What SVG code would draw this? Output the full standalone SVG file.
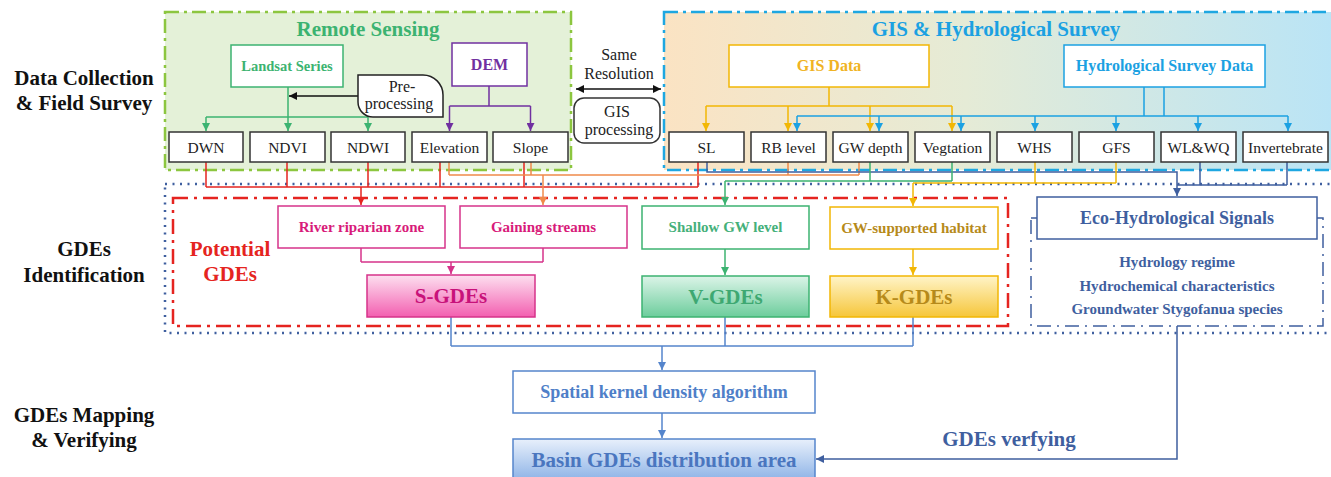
<svg xmlns="http://www.w3.org/2000/svg" width="1331" height="477" viewBox="0 0 1331 477">
<style>
text{font-family:"Liberation Serif","Times New Roman",serif;text-anchor:middle}
.b{font-weight:bold}
.lab{font-size:21px;font-weight:bold;fill:#111}
.row rect{fill:#fff;stroke:#333;stroke-width:1.5}
.row text{font-size:15.5px;fill:#222}
.c{fill:none;stroke-width:1.5}
.k{stroke:#111}.g{stroke:#3cb371}.p{stroke:#7030a0}.y{stroke:#f2b705}.h{stroke:#1ba1e2}
.r{stroke:#e52420}.o{stroke:#f08a4b}.d{stroke:#3f5f9f}.m{stroke:#d6338a}.s{stroke:#5585cc}
</style>
<defs>
<marker id="mk" viewBox="0 0 10 10" refX="10" refY="5" markerWidth="8" markerHeight="8" orient="auto-start-reverse" markerUnits="userSpaceOnUse"><path d="M0,0L10,5L0,10z" fill="#111"/></marker>
<marker id="mg" viewBox="0 0 10 10" refX="10" refY="5" markerWidth="8" markerHeight="8" orient="auto" markerUnits="userSpaceOnUse"><path d="M0,0L10,5L0,10z" fill="#3cb371"/></marker>
<marker id="mp" viewBox="0 0 10 10" refX="10" refY="5" markerWidth="8" markerHeight="8" orient="auto" markerUnits="userSpaceOnUse"><path d="M0,0L10,5L0,10z" fill="#7030a0"/></marker>
<marker id="my" viewBox="0 0 10 10" refX="10" refY="5" markerWidth="8" markerHeight="8" orient="auto" markerUnits="userSpaceOnUse"><path d="M0,0L10,5L0,10z" fill="#f2b705"/></marker>
<marker id="mh" viewBox="0 0 10 10" refX="10" refY="5" markerWidth="8" markerHeight="8" orient="auto" markerUnits="userSpaceOnUse"><path d="M0,0L10,5L0,10z" fill="#1ba1e2"/></marker>
<marker id="mr" viewBox="0 0 10 10" refX="10" refY="5" markerWidth="8" markerHeight="8" orient="auto" markerUnits="userSpaceOnUse"><path d="M0,0L10,5L0,10z" fill="#e52420"/></marker>
<marker id="mo" viewBox="0 0 10 10" refX="10" refY="5" markerWidth="8" markerHeight="8" orient="auto" markerUnits="userSpaceOnUse"><path d="M0,0L10,5L0,10z" fill="#f08a4b"/></marker>
<marker id="md" viewBox="0 0 10 10" refX="10" refY="5" markerWidth="8" markerHeight="8" orient="auto" markerUnits="userSpaceOnUse"><path d="M0,0L10,5L0,10z" fill="#3f5f9f"/></marker>
<marker id="mm" viewBox="0 0 10 10" refX="10" refY="5" markerWidth="8" markerHeight="8" orient="auto" markerUnits="userSpaceOnUse"><path d="M0,0L10,5L0,10z" fill="#d6338a"/></marker>
<marker id="ms" viewBox="0 0 10 10" refX="10" refY="5" markerWidth="8" markerHeight="8" orient="auto" markerUnits="userSpaceOnUse"><path d="M0,0L10,5L0,10z" fill="#5585cc"/></marker>
<linearGradient id="gisbg" x1="0" y1="0" x2="1" y2="0"><stop offset="0" stop-color="#fbe3c3"/><stop offset="0.45" stop-color="#e5ebd6"/><stop offset="1" stop-color="#b9e4f6"/></linearGradient>
<linearGradient id="gs" x1="0" y1="0" x2="0" y2="1"><stop offset="0" stop-color="#fde0f0"/><stop offset="1" stop-color="#f35fb0"/></linearGradient>
<linearGradient id="gv" x1="0" y1="0" x2="0" y2="1"><stop offset="0" stop-color="#dcf4e8"/><stop offset="1" stop-color="#6ccd9c"/></linearGradient>
<linearGradient id="gk" x1="0" y1="0" x2="0" y2="1"><stop offset="0" stop-color="#fff4c8"/><stop offset="1" stop-color="#f6c63a"/></linearGradient>
<linearGradient id="gb" x1="0" y1="0" x2="0" y2="1"><stop offset="0" stop-color="#e8f0fb"/><stop offset="1" stop-color="#8cb2e6"/></linearGradient>
</defs>
<rect width="1331" height="477" fill="#fff"/>

<g id="stage-labels">
<text class="lab" x="84" y="85">Data Collection</text>
<text class="lab" x="84" y="110">&amp; Field Survey</text>
<text class="lab" x="84" y="256">GDEs</text>
<text class="lab" x="84" y="282">Identification</text>
<text class="lab" x="84" y="422">GDEs Mapping</text>
<text class="lab" x="84" y="447">&amp; Verifying</text>
</g>

<g id="remote-sensing-group">
<rect x="165" y="12" width="406" height="158" fill="#e4f1d8" stroke="#8cc63f" stroke-width="2.5" stroke-dasharray="14 5 3 5"/>
<text class="b" x="368" y="36" font-size="21" fill="#3cb371">Remote Sensing</text>
</g>
<g id="gis-group">
<rect x="664" y="12" width="672" height="158" fill="url(#gisbg)" stroke="#1ea7e1" stroke-width="2.5" stroke-dasharray="14 5 3 5"/>
<text class="b" x="996" y="36" font-size="21" fill="#1ba1e2">GIS &amp; Hydrological Survey</text>
</g>
<g id="identification-area">
<rect x="165" y="184" width="1170" height="149" fill="none" stroke="#3f5f9f" stroke-width="2.5" stroke-dasharray="2 5.5"/>
</g>
<g id="potential-gdes-group">
<rect x="173" y="198" width="835" height="128" fill="none" stroke="#e52420" stroke-width="2.5" stroke-dasharray="15 6 3 6"/>
<text class="b" x="230" y="256" font-size="21" fill="#e52420">Potential</text>
<text class="b" x="230" y="281" font-size="21" fill="#e52420">GDEs</text>
</g>
<g id="eco-signals-group">
<rect x="1031" y="218" width="292" height="108" fill="none" stroke="#3f5f9f" stroke-width="1.5" stroke-dasharray="14 6 2 6"/>
<text class="b" x="1177" y="267" font-size="15" fill="#3f5f9f">Hydrology regime</text>
<text class="b" x="1177" y="291" font-size="15" fill="#3f5f9f">Hydrochemical characteristics</text>
<text class="b" x="1177" y="314" font-size="15" fill="#3f5f9f">Groundwater Stygofanua species</text>
</g>

<g id="connectors">
<path class="c g" d="M288,87V131" marker-end="url(#mg)"/>
<path class="c g" d="M206,117H368"/>
<path class="c g" d="M206,117V131" marker-end="url(#mg)"/>
<path class="c g" d="M368,117V131" marker-end="url(#mg)"/>
<path class="c k" d="M358,96H289" marker-end="url(#mk)"/>
<path class="c p" d="M489,86V106M449.5,106H530.5"/>
<path class="c p" d="M449.5,106V131" marker-end="url(#mp)"/>
<path class="c p" d="M530.5,106V131" marker-end="url(#mp)"/>
<path class="c k" d="M576,89H661" marker-start="url(#mk)" marker-end="url(#mk)"/>
<path class="c y" d="M829,87V106M706,106H952"/>
<path class="c y" d="M706,106V131" marker-end="url(#my)"/>
<path class="c y" d="M788,106V131" marker-end="url(#my)"/>
<path class="c y" d="M870,106V131" marker-end="url(#my)"/>
<path class="c y" d="M952,106V131" marker-end="url(#my)"/>
<path class="c h" d="M1144,87V116M1164,87V116M797,116H1288"/>
<path class="c h" d="M797,116V131" marker-end="url(#mh)"/>
<path class="c h" d="M879,116V131" marker-end="url(#mh)"/>
<path class="c h" d="M961,116V131" marker-end="url(#mh)"/>
<path class="c h" d="M1035,116V131" marker-end="url(#mh)"/>
<path class="c h" d="M1116,116V131" marker-end="url(#mh)"/>
<path class="c h" d="M1198,116V131" marker-end="url(#mh)"/>
<path class="c h" d="M1288,116V131" marker-end="url(#mh)"/>
<path class="c r" d="M206,162V187M287,162V187M368,162V187M440,162V187M524,162V187M698,162V187M206,187H698"/>
<path class="c r" d="M361,187V205" marker-end="url(#mr)"/>
<path class="c o" d="M449,162V175M531,162V175M788,162V175M859,162V175M449,175H859"/>
<path class="c o" d="M543,175V205" marker-end="url(#mo)"/>
<path class="c d" d="M707,162V172H1177V196" marker-end="url(#md)"/>
<path class="c d" d="M1200,162V185M1287,162V185M1177,185H1287"/>
<path class="c g" d="M870,162V181M952,162V181M725,181H952"/>
<path class="c g" d="M725,181V205" marker-end="url(#mg)"/>
<path class="c y" d="M1035,162V183M1116,162V183M913,183H1116"/>
<path class="c y" d="M913,183V206" marker-end="url(#my)"/>
<path class="c m" d="M361,248V262M543,248V262M361,262H543"/>
<path class="c m" d="M451,262V274" marker-end="url(#mm)"/>
<path class="c g" d="M725,249V275" marker-end="url(#mg)"/>
<path class="c y" d="M913,249V275" marker-end="url(#my)"/>
<path class="c s" d="M451,317V346M725,317V346M913,317V346M451,346H913"/>
<path class="c s" d="M662,346V370" marker-end="url(#ms)"/>
<path class="c s" d="M662,413V438" marker-end="url(#ms)"/>
<path class="c d" d="M1177,326V459H816" marker-end="url(#md)"/>
</g>

<g id="landsat">
<rect x="231" y="45" width="112" height="42" fill="#fff" stroke="#3cb371" stroke-width="1.5"/>
<text class="b" x="287" y="71" font-size="14.5" fill="#3cb371">Landsat Series</text>
</g>
<g id="dem">
<rect x="452" y="43" width="75" height="43" fill="#fff" stroke="#7030a0" stroke-width="1.5"/>
<text class="b" x="489.5" y="70" font-size="16" fill="#7030a0">DEM</text>
</g>
<g id="pre-processing">
<path d="M358,75H423A20,20 0 0 1 443,95V117H373A15,15 0 0 1 358,102Z" fill="#fff" stroke="#222" stroke-width="1.5"/>
<text x="402" y="92" font-size="16" fill="#222">Pre-</text>
<text x="399" y="109" font-size="16" fill="#222">processing</text>
</g>
<g id="same-resolution">
<text x="619" y="60" font-size="16" fill="#222">Same</text>
<text x="619" y="79" font-size="16" fill="#222">Resolution</text>
</g>
<g id="gis-processing">
<rect x="574" y="98" width="86" height="45" rx="10" fill="#fff" stroke="#333" stroke-width="1.5"/>
<text x="617" y="117" font-size="16" fill="#222">GIS</text>
<text x="619" y="135" font-size="16" fill="#222">processing</text>
</g>
<g id="gis-data">
<rect x="729" y="45" width="200" height="42" fill="#fff" stroke="#f2b705" stroke-width="1.5"/>
<text class="b" x="829" y="71" font-size="16" fill="#f0b323">GIS Data</text>
</g>
<g id="hydro-survey-data">
<rect x="1064" y="45" width="201" height="42" fill="#fff" stroke="#1ba1e2" stroke-width="1.5"/>
<text class="b" x="1164.5" y="71" font-size="16" fill="#1ba1e2">Hydrological Survey Data</text>
</g>

<g id="dwn" class="row"><rect x="169" y="132" width="74" height="30"/><text x="206" y="152.5">DWN</text></g>
<g id="ndvi" class="row"><rect x="250" y="132" width="75" height="30"/><text x="287.5" y="152.5">NDVI</text></g>
<g id="ndwi" class="row"><rect x="331" y="132" width="74" height="30"/><text x="368" y="152.5">NDWI</text></g>
<g id="elevation" class="row"><rect x="412" y="132" width="75" height="30"/><text x="449.5" y="152.5">Elevation</text></g>
<g id="slope" class="row"><rect x="493" y="132" width="75" height="30"/><text x="530.5" y="152.5">Slope</text></g>
<g id="sl" class="row"><rect x="669" y="132" width="75" height="30"/><text x="706.5" y="152.5">SL</text></g>
<g id="rb-level" class="row"><rect x="751" y="132" width="75" height="30"/><text x="788.5" y="152.5">RB level</text></g>
<g id="gw-depth" class="row"><rect x="833" y="132" width="75" height="30"/><text x="870.5" y="152.5">GW depth</text></g>
<g id="vegtation" class="row"><rect x="915" y="132" width="75" height="30"/><text x="952.5" y="152.5">Vegtation</text></g>
<g id="whs" class="row"><rect x="997" y="132" width="75" height="30"/><text x="1034.5" y="152.5">WHS</text></g>
<g id="gfs" class="row"><rect x="1079" y="132" width="75" height="30"/><text x="1116.5" y="152.5">GFS</text></g>
<g id="wl-wq" class="row"><rect x="1161" y="132" width="75" height="30"/><text x="1198.5" y="152.5">WL&amp;WQ</text></g>
<g id="invertebrate" class="row"><rect x="1243" y="132" width="85" height="30"/><text x="1285.5" y="152.5">Invertebrate</text></g>

<g id="river-riparian">
<rect x="278" y="206" width="167" height="42" fill="#fff" stroke="#d6338a" stroke-width="1.5"/>
<text class="b" x="361.5" y="232" font-size="15" fill="#d81b7a">River riparian zone</text>
</g>
<g id="gaining-streams">
<rect x="460" y="206" width="167" height="42" fill="#fff" stroke="#d6338a" stroke-width="1.5"/>
<text class="b" x="543.5" y="232" font-size="15" fill="#d81b7a">Gaining streams</text>
</g>
<g id="shallow-gw">
<rect x="642" y="206" width="167" height="43" fill="#fff" stroke="#3cb371" stroke-width="1.5"/>
<text class="b" x="725.5" y="232" font-size="15" fill="#45b07a">Shallow GW level</text>
</g>
<g id="gw-habitat">
<rect x="830" y="207" width="168" height="42" fill="#fff" stroke="#f2b705" stroke-width="1.5"/>
<text class="b" x="914" y="233" font-size="15" fill="#b68a1a">GW-supported habitat</text>
</g>
<g id="s-gdes">
<rect x="367" y="275" width="168" height="42" fill="url(#gs)" stroke="#d6338a" stroke-width="1.5"/>
<text class="b" x="451" y="303" font-size="21" fill="#c8127a">S-GDEs</text>
</g>
<g id="v-gdes">
<rect x="642" y="276" width="167" height="41" fill="url(#gv)" stroke="#3cb371" stroke-width="1.5"/>
<text class="b" x="725.5" y="304" font-size="21" fill="#3ea872">V-GDEs</text>
</g>
<g id="k-gdes">
<rect x="830" y="276" width="168" height="41" fill="url(#gk)" stroke="#f2b705" stroke-width="1.5"/>
<text class="b" x="914" y="304" font-size="21" fill="#b68a1a">K-GDEs</text>
</g>
<g id="eco-signals">
<rect x="1037" y="197" width="280" height="42" fill="#fff" stroke="#3f5f9f" stroke-width="1.5"/>
<text class="b" x="1177" y="224" font-size="18" fill="#3f5f9f">Eco-Hydrological Signals</text>
</g>
<g id="spatial-kde">
<rect x="513" y="371" width="302" height="42" fill="#fff" stroke="#5585cc" stroke-width="1.5"/>
<text class="b" x="664" y="398" font-size="18" fill="#4f7fc8">Spatial kernel density algorithm</text>
</g>
<g id="basin-gdes">
<rect x="513" y="439" width="302" height="42" fill="url(#gb)" stroke="#5585cc" stroke-width="1.5"/>
<text class="b" x="664" y="467" font-size="21" fill="#4a76bf">Basin GDEs distribution area</text>
</g>
<g id="gdes-verifying-label">
<text class="b" x="1009" y="446" font-size="21" fill="#3f5f9f">GDEs verfying</text>
</g>
</svg>
